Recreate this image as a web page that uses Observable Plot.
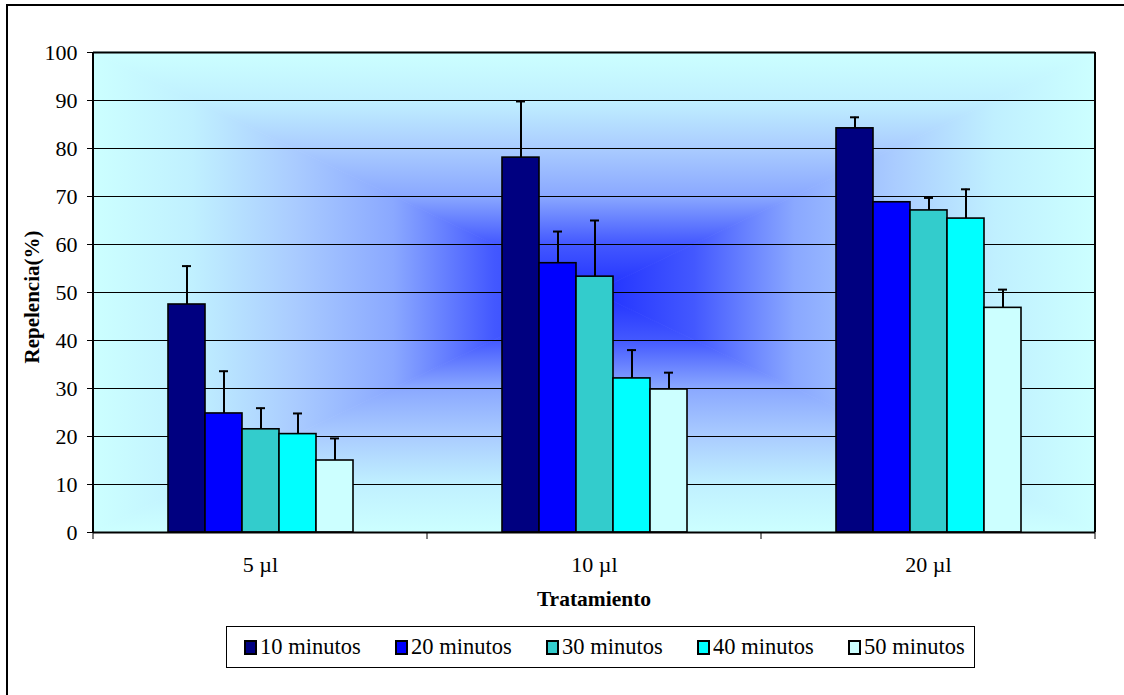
<!DOCTYPE html>
<html>
<head>
<meta charset="utf-8">
<script src="https://cdn.jsdelivr.net/npm/d3@7"></script>
<script src="https://cdn.jsdelivr.net/npm/@observablehq/plot@0.6"></script>
<style>
  body { margin: 0; background: #fff; }
  #wrap { position: relative; width: 1124px; height: 695px; overflow: hidden;
          font-family: "Liberation Serif", "Times New Roman", serif; }
  #border { position: absolute; left: 6px; top: 4px; width: 1140px; height: 720px;
            border: 2px solid #000; box-sizing: border-box; }
  #chart { position: absolute; left: 0; top: 0; }
  #legend { position: absolute; left: 226px; top: 626px; width: 749px; height: 42px;
            border: 1px solid #000; box-sizing: border-box; background: #fff; }
  .item { position: absolute; top: 0; height: 40px; display: flex; align-items: center;
          font-size: 22.5px; color: #000; white-space: nowrap; }
  .sw { width: 9px; height: 11px; border: 2px solid #000; margin-right: 3px; }
</style>
</head>
<body>
<div id="wrap">
  <div id="border"></div>
  <div id="chart"></div>
  <div id="legend"></div>
</div>
<script>
// ---- data ----
const groups = ["5 µl", "10 µl", "20 µl"];
const series = ["10 minutos", "20 minutos", "30 minutos", "40 minutos", "50 minutos"];
const colors = ["#000080", "#0000ff", "#33cccc", "#00ffff", "#ccffff"];
const repel5  = [47.5, 24.8, 21.5, 20.5, 15.0];
const repel10 = [78.1, 56.1, 53.3, 32.1, 29.8];
const repel20 = [84.2, 68.8, 67.1, 65.4, 46.8];
const err5  = [8.0, 8.8, 4.4, 4.3, 4.6];
const err10 = [11.7, 6.6, 11.7, 5.9, 3.5];
const err20 = [2.3, 0, 2.6, 6.1, 3.8];
const yTicks = [0, 10, 20, 30, 40, 50, 60, 70, 80, 90, 100];
const yLabel = "Repelencia(%)";
const xLabel = "Tratamiento";

const valuesByGroup = [repel5, repel10, repel20];
const errsByGroup = [err5, err10, err20];
const data = [];
groups.forEach((g, i) => series.forEach((s, j) =>
  data.push({group: g, series: s, value: valuesByGroup[i][j], err: errsByGroup[i][j]})));
const withErr = data.filter(d => d.err > 0);

const W = 1124, H = 615;
const chart = Plot.plot({
  width: W, height: H,
  marginTop: 52, marginLeft: 93, marginRight: 29, marginBottom: 83,
  style: {fontFamily: "'Liberation Serif','Times New Roman',serif", fontSize: "22px", color: "#000", background: "transparent"},
  fx: {domain: groups, padding: 0, axis: "bottom", tickSize: 0, tickPadding: 24, label: null},
  x: {domain: series, paddingInner: 0, paddingOuter: 2, axis: null},
  y: {domain: [0, 100], ticks: yTicks, tickSize: 6, tickPadding: 10, label: null},
  color: {domain: series, range: colors},
  marks: [
    Plot.ruleY(yTicks.filter(t => t > 0), {stroke: "#000", strokeWidth: 1}),
    Plot.barY(data, {fx: "group", x: "series", y: "value", fill: "series", stroke: "#000", strokeWidth: 1.6}),
    Plot.ruleX(withErr, {fx: "group", x: "series", y1: "value", y2: d => d.value + d.err, stroke: "#000", strokeWidth: 2}),
    Plot.tickY(withErr, {fx: "group", x: "series", y: d => d.value + d.err, stroke: "#000", strokeWidth: 2, insetLeft: 14, insetRight: 14}),
    Plot.ruleY([0], {stroke: "#000", strokeWidth: 2}),
    Plot.ruleY([100], {stroke: "#000", strokeWidth: 2})
  ]
});
document.getElementById("chart").appendChild(chart);

// ---- decoration derived from the scales ----
const ys = chart.scale("y"), fxs = chart.scale("fx");
const yScale = d3.scaleLinear(ys.domain, ys.range);
const fxScale = d3.scaleBand(fxs.domain, fxs.range).padding(0);
const x0 = fxs.range[0], x1 = fxs.range[1];
const yTop = yScale(100), yBot = yScale(0);
const cx = (x0 + x1) / 2, cy = (yTop + yBot) / 2;
const svg = d3.select(chart);

const bg = svg.insert("g", ":first-child");
const defs = bg.append("defs");
const stops = [[0, "#1f2fff"], [0.2, "#4358ff"], [0.4, "#8aa8ff"], [0.6, "#aaccff"], [0.8, "#c0f0ff"], [1, "#ccffff"]];
const tris = [
  {id: "gT", ex: cx, ey: yTop, pts: [[x0, yTop], [x1, yTop], [cx, cy]]},
  {id: "gB", ex: cx, ey: yBot, pts: [[x0, yBot], [x1, yBot], [cx, cy]]},
  {id: "gL", ex: x0, ey: cy, pts: [[x0, yTop], [x0, yBot], [cx, cy]]},
  {id: "gR", ex: x1, ey: cy, pts: [[x1, yTop], [x1, yBot], [cx, cy]]}
];
tris.forEach(t => {
  const lg = defs.append("linearGradient").attr("id", "bg" + t.id)
    .attr("gradientUnits", "userSpaceOnUse")
    .attr("x1", cx).attr("y1", cy).attr("x2", t.ex).attr("y2", t.ey);
  stops.forEach(([o, c]) => lg.append("stop").attr("offset", o).attr("stop-color", c));
  bg.append("polygon").attr("points", t.pts.map(p => p.join(",")).join(" "))
    .attr("fill", `url(#bg${t.id})`).attr("stroke", `url(#bg${t.id})`).attr("stroke-width", 0.8);
});

const deco = svg.append("g").attr("stroke", "#000");
deco.append("line").attr("x1", x0).attr("x2", x0).attr("y1", yTop).attr("y2", yBot).attr("stroke-width", 2);
deco.append("line").attr("x1", x1).attr("x2", x1).attr("y1", yTop).attr("y2", yBot).attr("stroke-width", 2);
const bounds = groups.map(g => fxScale(g)).concat([x1]);
bounds.forEach(b => deco.append("line").attr("x1", b).attr("x2", b).attr("y1", yBot).attr("y2", yBot + 7).attr("stroke-width", 1));

svg.append("text").attr("transform", `translate(32,${cy + 5}) rotate(-90)`)
  .attr("text-anchor", "middle").attr("dominant-baseline", "central")
  .attr("font-weight", "bold").attr("font-size", 21).attr("fill", "#000").text(yLabel);
svg.append("text").attr("x", cx).attr("y", 606)
  .attr("text-anchor", "middle").attr("font-weight", "bold").attr("font-size", 21.5).attr("fill", "#000").text(xLabel);

// ---- legend ----
const leg = document.getElementById("legend");
series.forEach((s, i) => {
  const it = document.createElement("div");
  it.className = "item";
  it.style.left = (17 + i * 151) + "px";
  const sw = document.createElement("div");
  sw.className = "sw";
  sw.style.background = colors[i];
  const tx = document.createElement("span");
  tx.textContent = s;
  it.appendChild(sw); it.appendChild(tx);
  leg.appendChild(it);
});
</script>
</body>
</html>
